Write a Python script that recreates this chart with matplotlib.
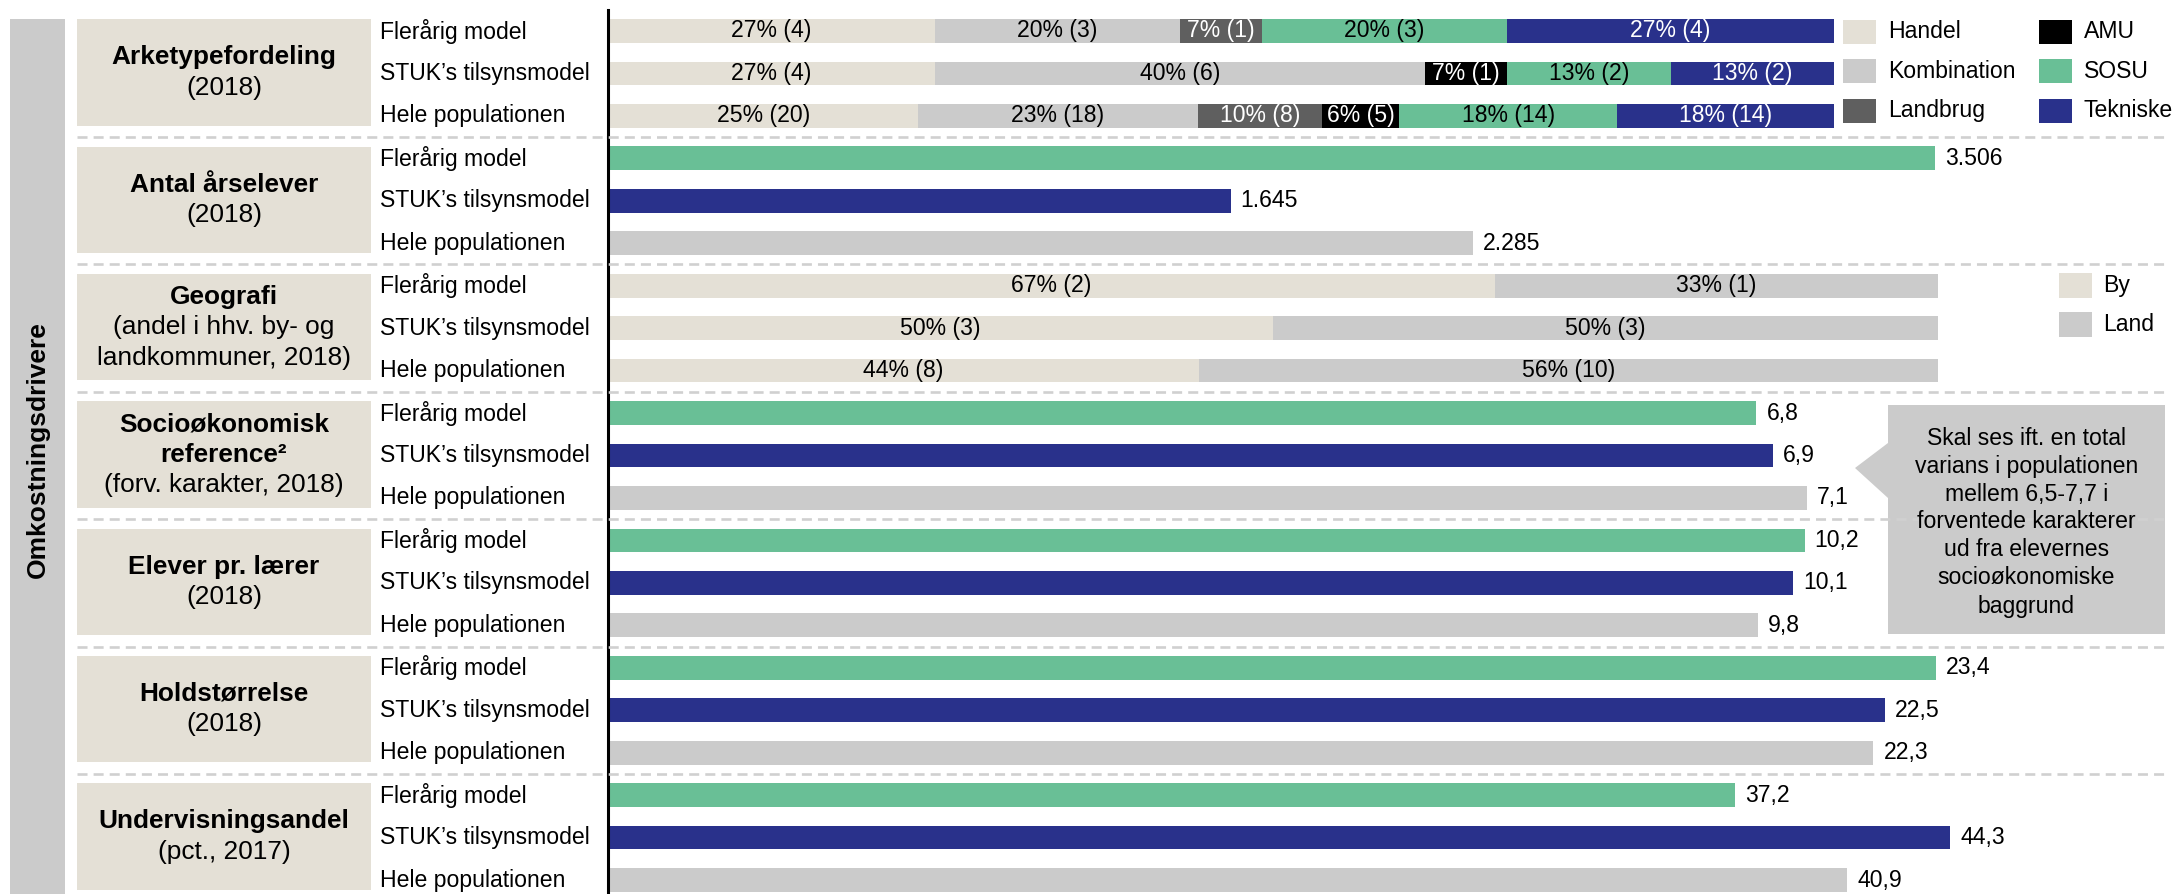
import numpy as np
import matplotlib.pyplot as plt
from matplotlib.patches import Rectangle, Polygon
from matplotlib.lines import Line2D

plt.rcParams['font.family'] = ['Liberation Sans', 'DejaVu Sans']

W, H = 2179, 894

# rækker i hver gruppe
raekker = ["Flerårig model", "STUK’s tilsynsmodel", "Hele populationen"]

# arketypefordeling (antal institutioner)
arketyper = ["Handel", "Kombination", "Landbrug", "AMU", "SOSU", "Tekniske"]
arketype_flerarig = [4, 3, 1, 0, 3, 4]
arketype_stuk = [4, 6, 0, 1, 2, 2]
arketype_hele = [20, 18, 8, 5, 14, 14]

# geografi (antal i by- og landkommuner)
geografi_typer = ["By", "Land"]
geografi_flerarig = [2, 1]
geografi_stuk = [3, 3]
geografi_hele = [8, 10]

aarselever = [3506, 1645, 2285]
socio_reference = [6.8, 6.9, 7.1]
elever_pr_laerer = [10.2, 10.1, 9.8]
holdstoerrelse = [23.4, 22.5, 22.3]
undervisningsandel = [37.2, 44.3, 40.9]

gruppe_titler = [["Arketypefordeling"], ["Antal årselever"], ["Geografi"],
                 ["Socioøkonomisk", "reference²"], ["Elever pr. lærer"],
                 ["Holdstørrelse"], ["Undervisningsandel"]]
gruppe_undertekster = [["(2018)"], ["(2018)"],
                       ["(andel i hhv. by- og", "landkommuner, 2018)"],
                       ["(forv. karakter, 2018)"], ["(2018)"], ["(2018)"],
                       ["(pct., 2017)"]]

boks_tekst = ["Skal ses ift. en total", "varians i populationen",
              "mellem 6,5-7,7 i", "forventede karakterer", "ud fra elevernes",
              "socioøkonomiske", "baggrund"]

BEIGE = "#E4E0D6"
LYSGRAA = "#CBCBCB"
MOERKGRAA = "#5F5F5F"
SORT = "#000000"
GROEN = "#69BF96"
BLAA = "#29318B"

arketype_farver = [BEIGE, LYSGRAA, MOERKGRAA, SORT, GROEN, BLAA]
arketype_tekstfarver = ["black", "black", "white", "white", "black", "white"]
geografi_farver = [BEIGE, LYSGRAA]
raekke_farver = [GROEN, BLAA, LYSGRAA]

FS = 16.6


def fx(x):
    return x / W


def fy(y):
    return 1 - y / H


def dansk(v, dec):
    s = f"{v:,.{dec}f}"
    return s.replace(",", "#").replace(".", ",").replace("#", ".")


fig = plt.figure(figsize=(W / 100, H / 100), dpi=100)

ROW0, PITCH = 31, 42.45
X0, X1 = 608, 1950
BAR_H = 0.56

# x-akse maksimum pr. gruppe
xmax = [1.0946, 3545, 1.009, 7.946, 11.44, 23.65, 44.29]

akser = []
for g in range(7):
    top = ROW0 + PITCH * (3 * g - 0.5)
    bot = ROW0 + PITCH * (3 * g + 2.5)
    ax = fig.add_axes([fx(X0), fy(bot), (X1 - X0) / W, (bot - top) / H])
    ax.set_ylim(2.5, -0.5)
    ax.set_xlim(0, xmax[g])
    for s in ["top", "right", "bottom"]:
        ax.spines[s].set_visible(False)
    ax.spines["left"].set_linewidth(2.2)
    ax.spines["left"].set_color("black")
    ax.set_xticks([])
    ax.set_yticks([])
    ax.patch.set_visible(False)
    akser.append(ax)

    # beige boks med gruppenavn
    b_top = top + 9.5
    b_bot = min(bot - 11.5, H)
    fig.add_artist(Rectangle((fx(77), fy(b_bot)), (371 - 77) / W, (b_bot - b_top) / H,
                             transform=fig.transFigure, color=BEIGE, lw=0, zorder=0))
    linjer = [(t, "bold") for t in gruppe_titler[g]] + [(t, "normal") for t in gruppe_undertekster[g]]
    cy = (b_top + (bot - 11.5)) / 2
    n = len(linjer)
    for i, (t, w) in enumerate(linjer):
        y = cy + (i - (n - 1) / 2) * 30.5
        fig.text(fx(224), fy(y), t, ha="center", va="center",
                 fontsize=18.9, fontweight=w)

    for i, r in enumerate(raekker):
        fig.text(fx(380), fy(ROW0 + PITCH * (3 * g + i)), r, ha="left", va="center",
                 fontsize=FS)


def stablet(ax, fordelinger, farver, tekstfarver):
    for i, antal in enumerate(fordelinger):
        antal = np.array(antal, dtype=float)
        andele = antal / antal.sum()
        venstre = 0
        for j, (a, n) in enumerate(zip(andele, antal)):
            if n == 0:
                continue
            ax.barh(i, a, left=venstre, height=BAR_H, color=farver[j], lw=0)
            ax.text(venstre + a / 2, i, f"{round(a * 100):.0f}% ({int(n)})",
                    ha="center", va="center", fontsize=FS, color=tekstfarver[j])
            venstre += a


def vaerdier(ax, v, dec):
    ax.barh(range(3), v, height=BAR_H, color=raekke_farver, lw=0)
    for i, val in enumerate(v):
        ax.annotate(dansk(val, dec), xy=(val, i), xytext=(7.2, 0),
                    textcoords="offset points", ha="left", va="center",
                    fontsize=FS, annotation_clip=False)


stablet(akser[0], [arketype_flerarig, arketype_stuk, arketype_hele],
        arketype_farver, arketype_tekstfarver)
vaerdier(akser[1], aarselever, 0)
stablet(akser[2], [geografi_flerarig, geografi_stuk, geografi_hele],
        geografi_farver, ["black", "black"])
vaerdier(akser[3], socio_reference, 1)
vaerdier(akser[4], elever_pr_laerer, 1)
vaerdier(akser[5], holdstoerrelse, 1)
vaerdier(akser[6], undervisningsandel, 1)

# stiplede skillelinjer mellem grupperne
for g in range(6):
    y = ROW0 + PITCH * (3 * g + 2.5)
    fig.add_artist(Line2D([fx(77), fx(2167)], [fy(y), fy(y)], transform=fig.transFigure,
                          color="#D0D0D0", lw=1.9, linestyle=(0, (3.8, 2.3))))

# forklaring, arketyper
for j, navn in enumerate(arketyper):
    kol, rk = divmod(j, 3)
    px = [1843, 2039][kol]
    yc = 32 + rk * 39.3
    fig.add_artist(Rectangle((fx(px), fy(yc + 12)), 33 / W, 24 / H,
                             transform=fig.transFigure, color=arketype_farver[j], lw=0))
    fig.text(fx(px + 45), fy(yc), navn, ha="left", va="center", fontsize=FS)

# forklaring, geografi
for j, navn in enumerate(geografi_typer):
    yc = 285.5 + j * 39
    fig.add_artist(Rectangle((fx(2059), fy(yc + 12.5)), 33 / W, 25 / H,
                             transform=fig.transFigure, color=geografi_farver[j], lw=0))
    fig.text(fx(2103), fy(yc), navn, ha="left", va="center", fontsize=FS)

# kommentarboks med pil
pkt = [(1888, 405), (2165, 405), (2165, 634), (1888, 634),
       (1888, 498), (1855, 468), (1888, 443)]
fig.add_artist(Polygon([(fx(x), fy(y)) for x, y in pkt], closed=True,
                       transform=fig.transFigure, color=LYSGRAA, lw=0))
for i, t in enumerate(boks_tekst):
    fig.text(fx(2026.5), fy(438 + 28 * i), t, ha="center", va="center", fontsize=FS)

# grå bjælke til venstre
fig.add_artist(Rectangle((fx(10), 0), 55 / W, (H - 19) / H,
                         transform=fig.transFigure, color=LYSGRAA, lw=0, zorder=0))
fig.text(fx(37.5), fy(450), "Omkostningsdrivere", rotation=90, ha="center",
         va="center", fontsize=19, fontweight="bold")

fig.savefig("out.png", dpi=100)
